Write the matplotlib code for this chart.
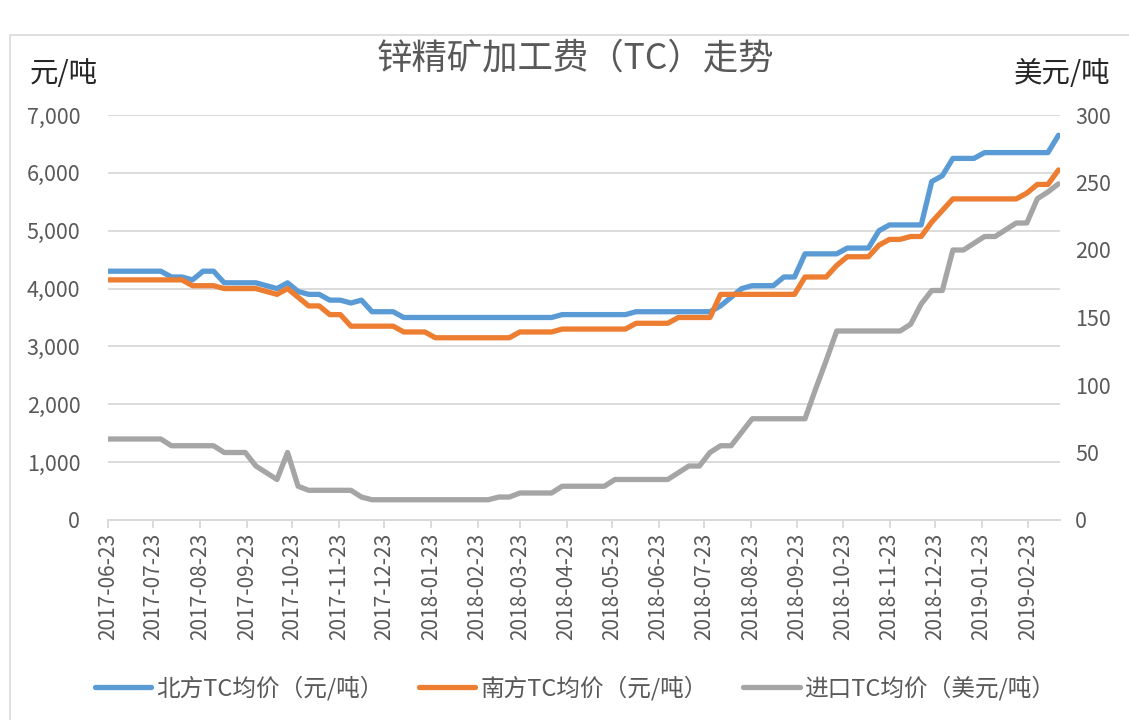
"""Zinc concentrate TC trend, north / south domestic vs import."""

import matplotlib

matplotlib.use("Agg")
import matplotlib.dates as mdates
import matplotlib.pyplot as plt
import pandas as pd
from matplotlib.patches import Rectangle
from matplotlib.ticker import FuncFormatter, MultipleLocator

plt.rcParams["font.family"] = ["Noto Sans CJK SC", "DejaVu Sans"]

# weekly samples starting 2017-06-23
start_date = "2017-06-23"
n_weeks = 91

north_tc = [
    4300, 4300, 4300, 4300, 4300, 4300,
    4200, 4200, 4150, 4300, 4300,
    4100, 4100, 4100, 4100,
    4050, 4000, 4100,
    3950, 3900, 3900, 3800, 3800, 3750, 3800,
    3600, 3600, 3600,
    3500, 3500, 3500, 3500, 3500, 3500, 3500, 3500, 3500, 3500, 3500, 3500, 3500, 3500, 3500,
    3550, 3550, 3550, 3550, 3550, 3550, 3550,
    3600, 3600, 3600, 3600, 3600, 3600, 3600, 3600,
    3700, 3850, 4000, 4050, 4050, 4050, 4200, 4200,
    4600, 4600, 4600, 4600,
    4700, 4700, 4700,
    5000,
    5100, 5100, 5100, 5100,
    5850, 5950,
    6250, 6250, 6250,
    6350, 6350, 6350, 6350, 6350, 6350, 6350,
    6650,
]

south_tc = [
    4150, 4150, 4150, 4150, 4150, 4150, 4150, 4150,
    4050, 4050, 4050,
    4000, 4000, 4000, 4000,
    3950, 3900, 4000,
    3850, 3700, 3700, 3550, 3550,
    3350, 3350, 3350, 3350, 3350,
    3250, 3250, 3250,
    3150, 3150, 3150, 3150, 3150, 3150, 3150, 3150,
    3250, 3250, 3250, 3250,
    3300, 3300, 3300, 3300, 3300, 3300, 3300,
    3400, 3400, 3400, 3400,
    3500, 3500, 3500, 3500,
    3900, 3900, 3900, 3900, 3900, 3900, 3900, 3900,
    4200, 4200, 4200,
    4400,
    4550, 4550, 4550,
    4750, 4850, 4850, 4900, 4900,
    5150, 5350,
    5550, 5550, 5550, 5550, 5550, 5550, 5550,
    5650, 5800, 5800, 6050,
]

import_tc = [
    60, 60, 60, 60, 60, 60,
    55, 55, 55, 55, 55,
    50, 50, 50,
    40, 35, 30, 50, 25,
    22, 22, 22, 22, 22,
    17,
    15, 15, 15, 15, 15, 15, 15, 15, 15, 15, 15, 15,
    17, 17,
    20, 20, 20, 20,
    25, 25, 25, 25, 25,
    30, 30, 30, 30, 30, 30,
    35, 40, 40,
    50, 55, 55, 65,
    75, 75, 75, 75, 75, 75,
    97, 118,
    140, 140, 140, 140, 140, 140, 140,
    145, 160, 170, 170,
    200, 200,
    205, 210, 210, 215, 220, 220, 238, 243, 249,
]

series_labels = ["北方TC均价（元/吨）", "南方TC均价（元/吨）", "进口TC均价（美元/吨）"]
title = "锌精矿加工费（TC）走势"

dates = pd.date_range(start_date, periods=n_weeks, freq="7D")
tick_dates = pd.date_range("2017-06-23", "2019-02-23", freq=pd.DateOffset(months=1))

BLUE = "#5B9BD5"
ORANGE = "#ED7D31"
GREY = "#A5A5A5"
GRID = "#D9D9D9"
TXT = "#595959"

W, H = 1129, 720
fig = plt.figure(figsize=(W / 100, H / 100), dpi=100)

# chart area border (partly cropped in the reference)
fig.patches.append(
    Rectangle((10 / W, -0.1), 1.2, (H - 35) / H + 0.1, transform=fig.transFigure,
              fill=False, edgecolor=GRID, linewidth=1.2)
)

ax = fig.add_axes([108 / W, 1 - 520 / H, (1060 - 108) / W, (520 - 115) / H])
ax2 = ax.twinx()

lw = 3.8
ax.plot(dates, north_tc, color=BLUE, lw=lw, label=series_labels[0], zorder=3,
        solid_joinstyle="round", solid_capstyle="round")
ax.plot(dates, south_tc, color=ORANGE, lw=lw, label=series_labels[1], zorder=3,
        solid_joinstyle="round", solid_capstyle="round")
ax2.plot(dates, import_tc, color=GREY, lw=lw, label=series_labels[2], zorder=2,
         solid_joinstyle="round", solid_capstyle="round")

ax.set_ylim(0, 7000)
ax2.set_ylim(0, 300)
ax.yaxis.set_major_locator(MultipleLocator(1000))
ax2.yaxis.set_major_locator(MultipleLocator(50))
ax.yaxis.set_major_formatter(FuncFormatter(lambda v, p: f"{int(v):,}"))
ax.grid(axis="y", color=GRID, lw=1.3)
ax.set_axisbelow(True)

ax.set_xlim(dates[0], dates[-1] + pd.Timedelta(days=1))
ax.set_xticks(tick_dates)
ax.xaxis.set_major_formatter(mdates.DateFormatter("%Y-%m-%d"))

for a in (ax, ax2):
    for s in ("top", "left", "right"):
        a.spines[s].set_visible(False)
    a.spines["bottom"].set_color(GRID)
    a.spines["bottom"].set_linewidth(1.3)

ax.tick_params(axis="x", colors=GRID, length=6, width=1.3, direction="out",
               labelcolor=TXT, labelsize=15, labelrotation=90, pad=3)
ax.tick_params(axis="y", length=0, labelcolor=TXT, labelsize=15.5, pad=20)
ax2.tick_params(axis="y", length=0, labelcolor=TXT, labelsize=15.5, pad=11)

fig.text(575 / W, 1 - 58 / H, title, ha="center", va="center", fontsize=25.5, color=TXT)
fig.text(30 / W, 1 - 74 / H, "元/吨", ha="left", va="center", fontsize=20.5, color="#262626")
fig.text(1110 / W, 1 - 74 / H, "美元/吨", ha="right", va="center", fontsize=20.5, color="#262626")

h1, l1 = ax.get_legend_handles_labels()
h2, l2 = ax2.get_legend_handles_labels()
fig.legend(h1 + h2, l1 + l2, loc="center", bbox_to_anchor=(575 / W, 1 - 688 / H),
           ncol=3, frameon=False, fontsize=17, labelcolor=TXT, handlelength=2.4,
           handletextpad=0.2, columnspacing=1.5)

fig.savefig("out.png", dpi=100)
